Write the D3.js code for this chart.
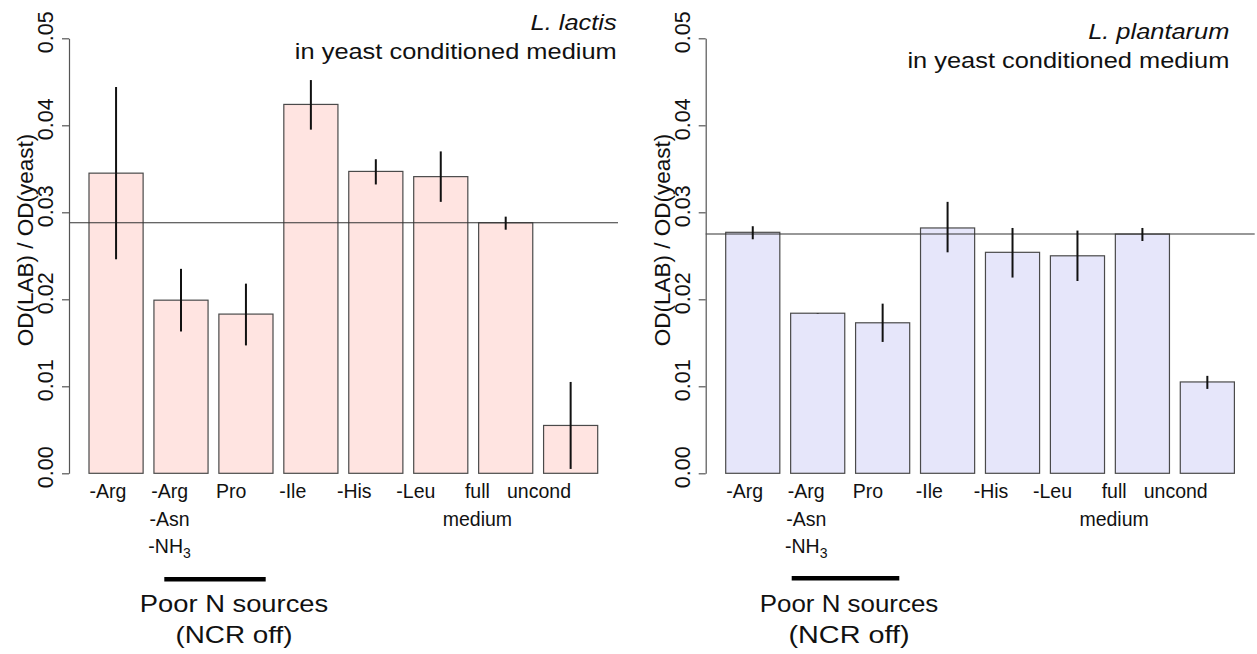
<!DOCTYPE html>
<html>
<head>
<meta charset="utf-8">
<script src="https://cdn.jsdelivr.net/npm/d3@7"></script>
<style>
  html, body { margin: 0; padding: 0; background: #fff; }
  svg { display: block; font-family: "Liberation Sans", Arial, Helvetica, sans-serif; }
</style>
</head>
<body>
<svg id="chart" width="1257" height="654"></svg>
<script>
// ---- data ----
const categories = ["-Arg", "-Arg/-Asn/-NH3", "Pro", "-Ile", "-His", "-Leu", "full medium", "uncond"];
const categoryLines = [["-Arg"], ["-Arg", "-Asn", "-NH3"], ["Pro"], ["-Ile"], ["-His"], ["-Leu"], ["full", "medium"], ["uncond"]];

const lactisMean = [0.0345, 0.0199, 0.0183, 0.0424, 0.0347, 0.0341, 0.0288, 0.0055];
const lactisLow  = [0.0246, 0.0163, 0.0147, 0.0395, 0.0332, 0.0312, 0.0280, 0.0005];
const lactisHigh = [0.0444, 0.0235, 0.0218, 0.0452, 0.0361, 0.0370, 0.0295, 0.0105];

const plantarumMean = [0.0277, 0.0184, 0.0173, 0.0282, 0.0254, 0.0250, 0.0275, 0.0105];
const plantarumLow  = [0.0269, 0.01837, 0.0151, 0.0254, 0.0225, 0.0221, 0.0267, 0.0097];
const plantarumHigh = [0.0284, 0.01842, 0.0195, 0.0312, 0.0282, 0.0279, 0.0282, 0.0112];

const yTicks = [0.00, 0.01, 0.02, 0.03, 0.04, 0.05];
const yTitle = "OD(LAB) / OD(yeast)";
const subtitle = "in yeast conditioned medium";
const noteLines = ["Poor N sources", "(NCR off)"];

const panels = [
  { species: "L. lactis", fill: "#FFE4E1", mean: lactisMean, low: lactisLow, high: lactisHigh,
    offset: 0, titleRight: 616.7, titleY: [30, 59.3], bracket: [164.3, 265.7, 579.3], noteX: 234, noteScale: [1.14, 1.16] },
  { species: "L. plantarum", fill: "#E6E6FA", mean: plantarumMean, low: plantarumLow, high: plantarumHigh,
    offset: 636.7, titleRight: 1229.3, titleY: [39.3, 68.3], bracket: [791.7, 899.3, 578.3], noteX: 849, noteScale: [1.08, 1.2] }
];

// ---- drawing ----
const svg = d3.select("#chart");
const y = d3.scaleLinear().domain([0, 0.05]).range([473.3, 38.3]);

panels.forEach(p => {
  const g = svg.append("g").attr("transform", `translate(${p.offset},0)`);
  const axisX = 69, plotRight = 618;

  const x = d3.scaleBand().domain(categories).range([89, 597.7]).paddingInner(0.2 / 1.2).paddingOuter(0);
  const labelX = d3.scalePoint().domain(categories).range([108, 539]);

  const rows = categories.map((c, i) => ({ c, m: p.mean[i], lo: p.low[i], hi: p.high[i] }));

  // bars
  g.selectAll("rect.bar").data(rows).join("rect")
    .attr("class", "bar")
    .attr("x", d => x(d.c))
    .attr("width", x.bandwidth())
    .attr("y", d => y(d.m))
    .attr("height", d => y(0) - y(d.m))
    .attr("fill", p.fill)
    .attr("stroke", "#4a4a4a")
    .attr("stroke-width", 1.2);

  // reference line at full medium level
  const ref = p.mean[categories.indexOf("full medium")];
  g.append("line")
    .attr("x1", axisX).attr("x2", plotRight)
    .attr("y1", y(ref)).attr("y2", y(ref))
    .attr("stroke", "#333").attr("stroke-width", 1.1);

  // error bars
  g.selectAll("line.err").data(rows).join("line")
    .attr("class", "err")
    .attr("x1", d => x(d.c) + x.bandwidth() / 2)
    .attr("x2", d => x(d.c) + x.bandwidth() / 2)
    .attr("y1", d => y(d.lo))
    .attr("y2", d => y(d.hi))
    .attr("stroke", "#111").attr("stroke-width", 2);

  // y axis
  const ax = g.append("g").attr("transform", `translate(${axisX},0)`)
    .call(d3.axisLeft(y).tickValues(yTicks).tickSize(7).tickSizeOuter(0).tickFormat(d3.format(".2f")));
  ax.select(".domain").attr("stroke", "#555").attr("stroke-width", 1.2);
  ax.selectAll(".tick line").attr("stroke", "#555").attr("stroke-width", 1.2);
  ax.selectAll(".tick text")
    .attr("x", null).attr("dy", null)
    .attr("text-anchor", "middle")
    .attr("transform", "translate(-15.7,-6.5) rotate(-90)")
    .attr("fill", "#111")
    .style("font-size", "21.5px")
    .style("font-family", "'Liberation Sans', Arial, sans-serif");

  // y title
  g.append("text")
    .attr("transform", "translate(33,240) rotate(-90)")
    .attr("text-anchor", "middle")
    .attr("fill", "#111")
    .style("font-size", "22.5px")
    .text(yTitle);

  // category labels
  const lab = g.selectAll("text.cat").data(categories).join("text")
    .attr("class", "cat")
    .attr("text-anchor", "middle")
    .attr("fill", "#111")
    .style("font-size", "19.5px");
  lab.each(function(c, i) {
    const t = d3.select(this);
    categoryLines[i].forEach((line, k) => {
      const ts = t.append("tspan").attr("x", labelX(c)).attr("y", 498.3 + k * 27.5);
      if (line === "-NH3") {
        ts.text("-NH");
        t.append("tspan").attr("dy", 5).style("font-size", "14px").text("3");
      } else {
        ts.text(line);
      }
    });
  });

  // titles (absolute coordinates)
  svg.append("text")
    .attr("transform", `translate(${p.titleRight},${p.titleY[0]}) scale(1.155,1)`)
    .attr("text-anchor", "end").attr("fill", "#111")
    .style("font-size", "22px").style("font-style", "italic")
    .text(p.species);
  svg.append("text")
    .attr("transform", `translate(${p.titleRight},${p.titleY[1]}) scale(1.155,1)`)
    .attr("text-anchor", "end").attr("fill", "#111")
    .style("font-size", "22px")
    .text(subtitle);

  // bracket + note
  svg.append("line")
    .attr("x1", p.bracket[0]).attr("x2", p.bracket[1])
    .attr("y1", p.bracket[2]).attr("y2", p.bracket[2])
    .attr("stroke", "#000").attr("stroke-width", 4.5);
  noteLines.forEach((line, k) => {
    svg.append("text")
      .attr("transform", `translate(${p.noteX},${612 + k * 30.5}) scale(${p.noteScale[k]},1)`)
      .attr("text-anchor", "middle").attr("fill", "#111")
      .style("font-size", "24px")
      .text(line);
  });
});
</script>
</body>
</html>
